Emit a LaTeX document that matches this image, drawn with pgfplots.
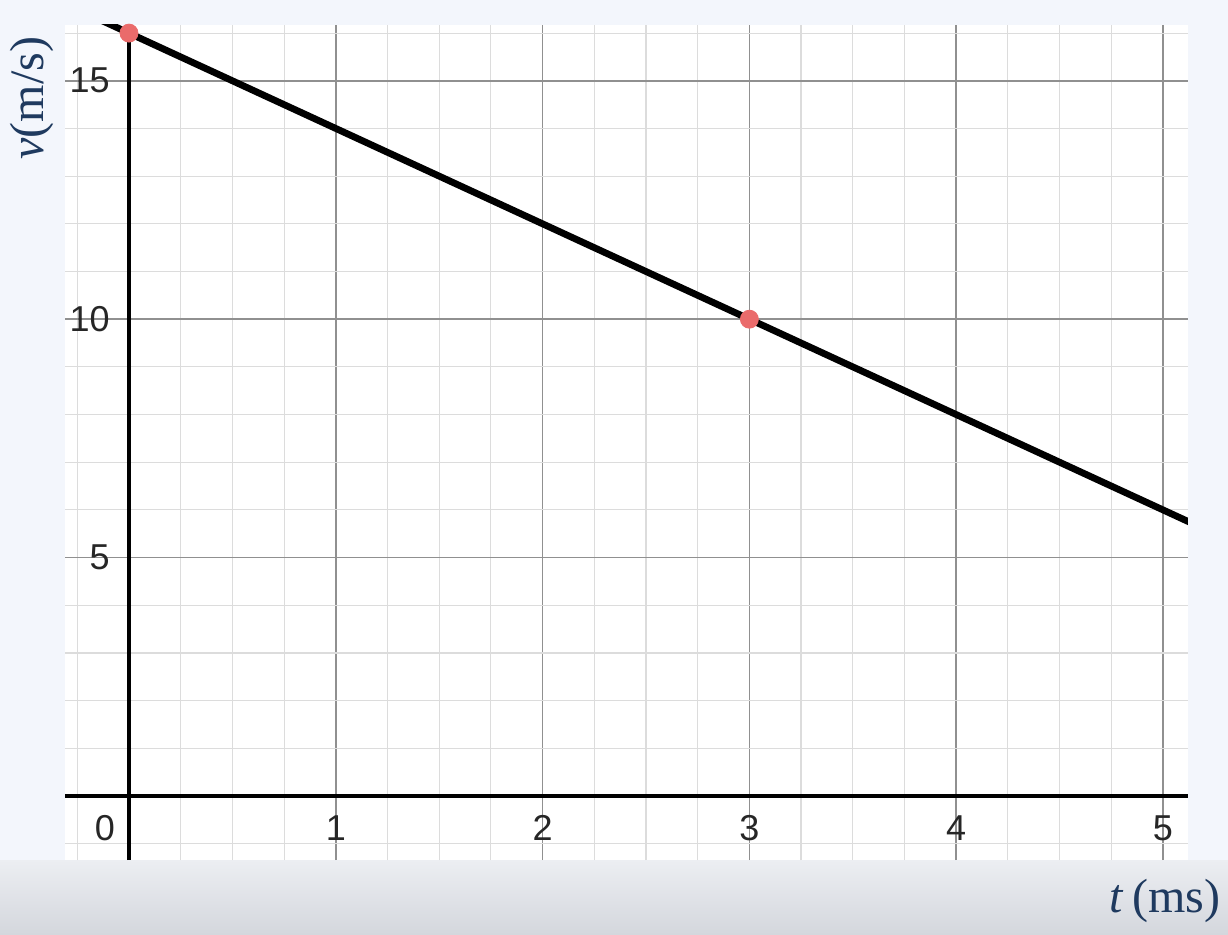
\documentclass[border=0pt]{standalone}
\usepackage{pgfplots}
\pgfplotsset{compat=1.18}
\usepackage{fontspec}
\setmainfont{Liberation Sans}
\newfontfamily\labfont{Liberation Serif}
\definecolor{bgtop}{HTML}{F3F6FC}
\definecolor{bgb1}{HTML}{ECEEF2}
\definecolor{bgb2}{HTML}{D4D7DD}
\definecolor{ptred}{HTML}{EA6B6B}
\definecolor{lab}{HTML}{1F3A5F}
\definecolor{majgrid}{HTML}{909090}
\definecolor{mingrid}{HTML}{DCDCDC}
\begin{document}
\begin{tikzpicture}
\fill[bgtop] (0,0) rectangle (614pt,467pt);
\shade[top color=bgb1, bottom color=bgb2] (0,0) rectangle (614pt,37pt);
\useasboundingbox (0,0) rectangle (614pt,467pt);
\begin{axis}[
  at={(32.5pt,37pt)}, anchor=south west,
  scale only axis, width=561.5pt, height=417.5pt,
  xmin=-0.3095, xmax=5.121, ymin=-1.343, ymax=16.17,
  axis lines=middle,
  axis line style={-, line width=1.6pt, black},
  axis background/.style={fill=white},
  xtick={0,1,2,3,4,5}, xticklabels={,1,2,3,4,5},
  ytick={0,5,10,15}, yticklabels={,5,10,15},
  minor xtick={-0.25,0.25,0.5,0.75,1.25,1.5,1.75,2.25,2.5,2.75,3.25,3.5,3.75,4.25,4.5,4.75},
  minor ytick={-1,1,2,3,4,6,7,8,9,11,12,13,14,16},
  major tick length=0pt, minor tick length=0pt,
  grid=both,
  major grid style={majgrid, line width=0.8pt},
  minor grid style={mingrid, line width=0.6pt},
  /pgf/number format/assume math mode=true,
  xticklabel style={anchor=center, yshift=-16pt, font=\fontsize{18}{20}\selectfont, text=black!85},
  yticklabel style={anchor=east, inner sep=0pt, xshift=-9.5pt, font=\fontsize{18}{20}\selectfont, text=black!85},
  clip mode=individual,
]
\addplot[black, line width=3.4pt] coordinates {(-0.5,17) (5.2,5.6)};
\addplot[only marks, mark=*, mark size=4.5pt, ptred, mark options={draw=ptred, fill=ptred}] coordinates {(0,16) (3,10)};
\node[font=\fontsize{18}{20}\selectfont, text=black!85, anchor=center, xshift=-12pt, yshift=-16pt] at (axis cs:0,0) {0};
\end{axis}
\node[rotate=90, font=\fontsize{24}{28}\labfont, text=lab] at (16pt,418pt) {\textit{v}(m/s)};
\node[font=\fontsize{24}{28}\labfont, text=lab] at (582.5pt,16.5pt) {\textit{t}\,(ms)};
\end{tikzpicture}
\end{document}
